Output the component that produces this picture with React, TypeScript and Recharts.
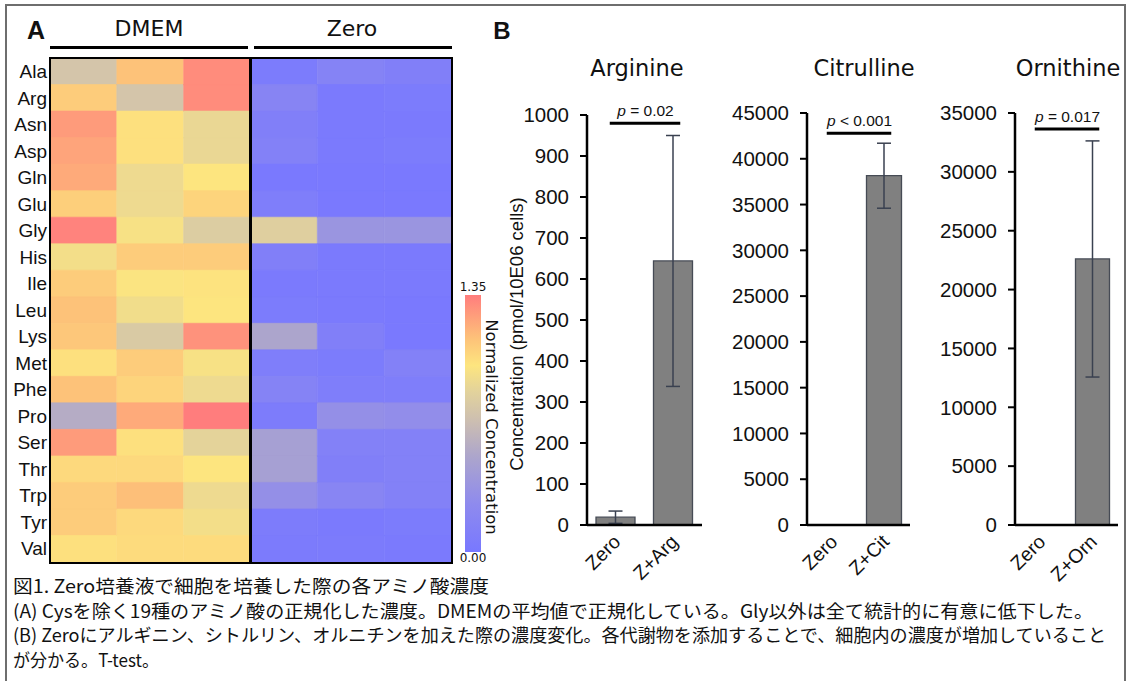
import React from "react";
import {
  BarChart,
  Bar,
  XAxis,
  YAxis,
  Cell,
  ReferenceLine,
  ErrorBar,
} from "recharts";

const ARIAL = "'Liberation Sans', Arial, sans-serif";
const VERDANA = "'DejaVu Sans', Verdana, sans-serif";
const JP = "'Noto Sans CJK JP', 'Noto Sans', sans-serif";

// ---- heatmap (A) ----
const AMINO_ACIDS = [
  "Ala", "Arg", "Asn", "Asp", "Gln", "Glu", "Gly", "His", "Ile", "Leu",
  "Lys", "Met", "Phe", "Pro", "Ser", "Thr", "Trp", "Tyr", "Val",
];
const DMEM_1 = [0.74, 1.08, 1.25, 1.22, 1.2, 1.07, 1.33, 0.93, 1.08, 1.12, 1.1, 1.0, 1.12, 0.55, 1.25, 1.03, 1.08, 1.08, 1.0];
const DMEM_2 = [1.12, 0.74, 1.0, 1.0, 0.9, 0.9, 0.95, 1.08, 0.97, 0.92, 0.78, 1.08, 1.05, 1.2, 1.0, 1.03, 1.13, 1.03, 1.02];
const DMEM_3 = [1.3, 1.3, 0.88, 0.88, 0.98, 1.05, 0.8, 1.08, 0.99, 0.98, 1.28, 0.95, 0.9, 1.35, 0.85, 0.98, 0.9, 0.93, 1.02];
const ZERO_1 = [0.05, 0.17, 0.1, 0.12, 0.02, 0.08, 0.82, 0.1, 0.03, 0.05, 0.5, 0.08, 0.15, 0.06, 0.45, 0.45, 0.3, 0.06, 0.04];
const ZERO_2 = [0.15, 0.03, 0.03, 0.03, 0.02, 0.02, 0.35, 0.03, 0.03, 0.03, 0.1, 0.05, 0.08, 0.3, 0.12, 0.1, 0.18, 0.03, 0.04];
const ZERO_3 = [0.1, 0.05, 0.03, 0.05, 0.02, 0.02, 0.35, 0.03, 0.03, 0.02, 0.02, 0.12, 0.08, 0.28, 0.12, 0.12, 0.12, 0.05, 0.03];
const HEAT_MIN = 0;
const HEAT_MAX = 1.35;

const HEAT_STOPS: [number, string][] = [
  [0, "#7878ff"],
  [0.25, "#8e8aee"],
  [0.5, "#aca5cc"],
  [0.68, "#cbbdb2"],
  [0.84, "#e2d29c"],
  [0.98, "#fde57f"],
  [1.12, "#fdc279"],
  [1.35, "#ff7d7d"],
];

// ---- bar panels (B) ----
const ARG_GROUPS = ["Zero", "Z+Arg"];
const ARG_MEAN = [19, 644];
const ARG_ERR = [15, 306];
const ARG_TICKS = [0, 100, 200, 300, 400, 500, 600, 700, 800, 900, 1000];
const ARG_SIG = 980;

const CIT_GROUPS = ["Zero", "Z+Cit"];
const CIT_MEAN = [0, 38150];
const CIT_ERR = [0, 3550];
const CIT_TICKS = [0, 5000, 10000, 15000, 20000, 25000, 30000, 35000, 40000, 45000];
const CIT_SIG = 42800;

const ORN_GROUPS = ["Zero", "Z+Orn"];
const ORN_MEAN = [0, 22600];
const ORN_ERR = [0, 10030];
const ORN_TICKS = [0, 5000, 10000, 15000, 20000, 25000, 30000, 35000];
const ORN_SIG = 33640;

const CAPTION = [
  "図1. Zero培養液で細胞を培養した際の各アミノ酸濃度",
  "(A) Cysを除く19種のアミノ酸の正規化した濃度。DMEMの平均値で正規化している。Gly以外は全て統計的に有意に低下した。",
  "(B) Zeroにアルギニン、シトルリン、オルニチンを加えた際の濃度変化。各代謝物を添加することで、細胞内の濃度が増加していること",
  "が分かる。T-test。",
];
const CAPTION_WIDTHS = [476, 1080, 1093, 146];

function hexToRgb(h: string) {
  const n = parseInt(h.slice(1), 16);
  return [(n >> 16) & 255, (n >> 8) & 255, n & 255];
}

function heatColor(v: number) {
  const t = Math.max(HEAT_MIN, Math.min(HEAT_MAX, v));
  for (let i = 1; i < HEAT_STOPS.length; i++) {
    const [v1, c1] = HEAT_STOPS[i];
    const [v0, c0] = HEAT_STOPS[i - 1];
    if (t <= v1) {
      const f = (t - v0) / (v1 - v0);
      const a = hexToRgb(c0);
      const b = hexToRgb(c1);
      const m = a.map((x, k) => Math.round(x + (b[k] - x) * f));
      return `rgb(${m[0]},${m[1]},${m[2]})`;
    }
  }
  return HEAT_STOPS[HEAT_STOPS.length - 1][1];
}

const heatColumns = [DMEM_1, DMEM_2, DMEM_3, ZERO_1, ZERO_2, ZERO_3];
const heatRows = AMINO_ACIDS.map((name) => {
  const row: Record<string, string | number> = { name };
  heatColumns.forEach((_, c) => {
    row[`s${c}`] = 1;
  });
  return row;
});

const gradient = `linear-gradient(to top, ${HEAT_STOPS.map(
  ([v, c]) => `${c} ${((v / HEAT_MAX) * 100).toFixed(1)}%`
).join(", ")})`;

function Txt({
  x,
  y,
  children,
  style,
}: {
  x: number;
  y: number;
  children: React.ReactNode;
  style?: React.CSSProperties;
}) {
  return (
    <div
      style={{
        position: "absolute",
        left: x,
        top: y,
        transform: "translate(-50%, -50%)",
        whiteSpace: "nowrap",
        lineHeight: 1,
        color: "#111",
        ...style,
      }}
    >
      {children}
    </div>
  );
}

function SlantTick(props: any) {
  const { x, y, payload } = props;
  const ax = x + 6;
  const ay = y + 18;
  return (
    <text
      x={ax}
      y={ay}
      transform={`rotate(-45, ${ax}, ${ay})`}
      textAnchor="end"
      fontSize={19.5}
      fontFamily={ARIAL}
      fill="#111"
    >
      {payload.value}
    </text>
  );
}

function SigLine(props: any) {
  const { x1, y1, x2, y2 } = props;
  if (x1 == null) return null;
  return (
    <line
      x1={Math.min(x1, x2) - 6}
      x2={Math.max(x1, x2) + 7}
      y1={y1}
      y2={y2}
      stroke="#000"
      strokeWidth={3}
    />
  );
}

function SigLabel(props: any) {
  const { viewBox, text } = props;
  if (!viewBox) return null;
  const cx = viewBox.x + (viewBox.width || 0) / 2 + 1;
  const cy = viewBox.y - 7;
  return (
    <text x={cx} y={cy} textAnchor="middle" fontSize={15.5} fontFamily={ARIAL} fill="#111">
      <tspan fontStyle="italic">p</tspan>
      {text}
    </text>
  );
}

interface PanelProps {
  left: number;
  width: number;
  marginTop: number;
  marginRight: number;
  groups: string[];
  means: number[];
  errs: number[];
  ticks: number[];
  sig: number;
  pText: string;
  barSize: number;
}

function BarPanel(p: PanelProps) {
  const data = p.groups.map((g, i) => ({ name: g, value: p.means[i], err: p.errs[i] }));
  const max = p.ticks[p.ticks.length - 1];
  return (
    <div style={{ position: "absolute", left: p.left, top: 100 }}>
      <BarChart
        width={p.width}
        height={500}
        data={data}
        margin={{ top: p.marginTop, right: p.marginRight, left: 0, bottom: 0 }}
      >
        <XAxis
          dataKey="name"
          height={75}
          interval={0}
          tickLine={false}
          tickSize={0}
          tickMargin={0}
          axisLine={{ stroke: "#000", strokeWidth: 2.5 }}
          tick={<SlantTick />}
        />
        <YAxis
          width={87}
          domain={[0, max]}
          ticks={p.ticks}
          interval={0}
          tickSize={7}
          tickMargin={11}
          axisLine={{ stroke: "#000", strokeWidth: 2.5 }}
          tickLine={{ stroke: "#000", strokeWidth: 2 }}
          tick={{ fontSize: 20.5, fill: "#111", fontFamily: ARIAL }}
        />
        <Bar
          dataKey="value"
          fill="#808080"
          stroke="#464b55"
          strokeWidth={1.3}
          barSize={p.barSize}
          isAnimationActive={false}
        >
          <ErrorBar dataKey="err" width={7} stroke="#3a4150" strokeWidth={1.5} />
        </Bar>
        <ReferenceLine
          segment={[
            { x: p.groups[0], y: p.sig },
            { x: p.groups[1], y: p.sig },
          ]}
          stroke="#000"
          strokeWidth={3}
          shape={SigLine}
          label={<SigLabel text={p.pText} />}
          ifOverflow="visible"
        />
      </BarChart>
    </div>
  );
}

export default function App() {
  return (
    <div
      style={{
        position: "absolute",
        left: 0,
        top: 0,
        width: 1127,
        height: 681,
        overflow: "hidden",
        background: "#fff",
        fontFamily: ARIAL,
      }}
    >
      {/* frame */}
      <div
        style={{
          position: "absolute",
          left: 5,
          top: 4,
          width: 1117,
          height: 720,
          border: "2px solid #6e6e6e",
        }}
      />

      {/* panel A */}
      <Txt x={36} y={30} style={{ fontSize: 25, fontWeight: 700 }}>A</Txt>
      <Txt x={149} y={29} style={{ fontSize: 22, fontFamily: VERDANA }}>DMEM</Txt>
      <Txt x={352} y={29} style={{ fontSize: 22, fontFamily: VERDANA }}>Zero</Txt>
      <div style={{ position: "absolute", left: 50, top: 46, width: 198, height: 3, background: "#000" }} />
      <div style={{ position: "absolute", left: 254, top: 46, width: 198, height: 3, background: "#000" }} />

      <div style={{ position: "absolute", left: 0, top: 0 }}>
        <BarChart
          layout="vertical"
          width={451}
          height={562}
          data={heatRows}
          margin={{ top: 58, right: 0, bottom: 0, left: 0 }}
          barCategoryGap={0}
        >
          <XAxis type="number" domain={[0, 6]} hide />
          <YAxis
            type="category"
            dataKey="name"
            width={50}
            interval={0}
            tickLine={false}
            axisLine={false}
            tickSize={0}
            tickMargin={3}
            tick={{ fontSize: 19, fill: "#111", fontFamily: ARIAL }}
          />
          {heatColumns.map((col, ci) => (
            <Bar key={ci} dataKey={`s${ci}`} stackId="h" isAnimationActive={false}>
              {col.map((v, ri) => (
                <Cell key={ri} fill={heatColor(v)} stroke={heatColor(v)} strokeWidth={0.6} />
              ))}
            </Bar>
          ))}
          <ReferenceLine x={3} stroke="#000" strokeWidth={3} />
        </BarChart>
      </div>
      {/* heatmap outline */}
      <div
        style={{
          position: "absolute",
          left: 48.5,
          top: 56.5,
          width: 404,
          height: 507,
          border: "2.5px solid #000",
          boxSizing: "border-box",
        }}
      />

      {/* colour bar */}
      <div
        style={{
          position: "absolute",
          left: 465,
          top: 295,
          width: 16,
          height: 257,
          background: gradient,
        }}
      />
      <Txt x={473} y={287} style={{ fontSize: 12, fontFamily: VERDANA }}>{HEAT_MAX.toFixed(2)}</Txt>
      <Txt x={473} y={558} style={{ fontSize: 12, fontFamily: VERDANA }}>{HEAT_MIN.toFixed(2)}</Txt>
      <Txt x={491} y={427} style={{ fontSize: 16.5, fontFamily: VERDANA, transform: "translate(-50%, -50%) rotate(90deg)" }}>
        Normalized Concentration
      </Txt>

      {/* panel B */}
      <Txt x={502} y={31} style={{ fontSize: 24, fontWeight: 700 }}>B</Txt>
      <Txt x={637} y={68} style={{ fontSize: 22.5, fontFamily: VERDANA }}>Arginine</Txt>
      <Txt x={864} y={68} style={{ fontSize: 22.5, fontFamily: VERDANA }}>Citrulline</Txt>
      <Txt x={1068} y={68} style={{ fontSize: 22.5, fontFamily: VERDANA }}>Ornithine</Txt>
      <Txt x={517} y={334} style={{ fontSize: 18.5, transform: "translate(-50%, -50%) rotate(-90deg)" }}>
        Concentration (pmol/10E06 cells)
      </Txt>

      <BarPanel
        left={500}
        width={210}
        marginTop={15}
        marginRight={8}
        groups={ARG_GROUPS}
        means={ARG_MEAN}
        errs={ARG_ERR}
        ticks={ARG_TICKS}
        sig={ARG_SIG}
        pText=" = 0.02"
        barSize={39}
      />
      <BarPanel
        left={720}
        width={200}
        marginTop={13}
        marginRight={10}
        groups={CIT_GROUPS}
        means={CIT_MEAN}
        errs={CIT_ERR}
        ticks={CIT_TICKS}
        sig={CIT_SIG}
        pText=" < 0.001"
        barSize={35}
      />
      <BarPanel
        left={928}
        width={199}
        marginTop={13}
        marginRight={9}
        groups={ORN_GROUPS}
        means={ORN_MEAN}
        errs={ORN_ERR}
        ticks={ORN_TICKS}
        sig={ORN_SIG}
        pText=" = 0.017"
        barSize={34}
      />

      {/* caption */}
      <svg
        width={1127}
        height={111}
        style={{ position: "absolute", left: 0, top: 570 }}
      >
        {CAPTION.map((line, i) => (
          <text
            key={i}
            x={13}
            y={23 + i * 24.5}
            fontSize={18}
            fontFamily={JP}
            fill="#111"
            textLength={CAPTION_WIDTHS[i]}
            lengthAdjust="spacingAndGlyphs"
          >
            {line}
          </text>
        ))}
      </svg>
    </div>
  );
}
